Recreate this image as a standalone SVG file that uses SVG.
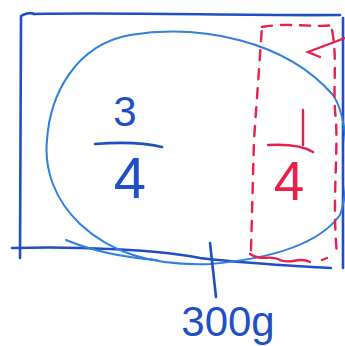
<svg xmlns="http://www.w3.org/2000/svg" width="345" height="346" viewBox="0 0 345 346">
<style>
.dk{fill:none;stroke:#1f4fc4;stroke-width:2.6;stroke-linecap:round;stroke-linejoin:round}
.lt{fill:none;stroke:#2f7fdc;stroke-width:2;stroke-linecap:round}
.rd{fill:none;stroke:#e8204c;stroke-width:2.4;stroke-linecap:round}
.rdd{fill:none;stroke:#e8204c;stroke-width:2.4;stroke-linecap:round;stroke-dasharray:10 9}
.tb{font-family:"Liberation Sans",Arial,sans-serif;fill:#1f4fc4;text-anchor:middle}
.tr{font-family:"Liberation Sans",Arial,sans-serif;fill:#e8204c;text-anchor:middle}
</style>
<rect width="345" height="346" fill="#fff"/>
<g id="whole">
<path class="dk" d="M34,14 C120,12 250,16 340,15"/>
<path class="dk" d="M34,14 C30,12 24,14 21,16 L20,258"/>
<path class="dk" d="M12,248 C80,246 160,250 200,258 C250,264 300,266 331,268"/>
<path class="dk" d="M343,18 L343,268"/>
</g>
<g id="blob">
<path class="lt" d="M130,35 C200,24 285,40 333,95 C350,120 350,190 340,215 C322,240 280,258 210,264 C150,266 110,252 80,224 C55,200 44,170 47,140 C50,95 75,45 130,35 Z"/>
<path class="lt" d="M66,240 C95,252 130,258 157,260"/>
</g>
<g id="quarter">
<path class="rdd" d="M251,250 L254,140 L262,27"/>
<path class="rdd" d="M262,27 C290,22 315,28 333,25"/>
<path class="rdd" d="M332,30 C338,60 332,90 336,120 C338,160 332,200 337,255" stroke-dasharray="7 14"/>
<path class="rd" d="M250,254 C262,262 270,254 280,260 C292,265 298,256 310,262 M322,260 L327,258"/>
<path class="rd" d="M345,38 L308,52 L320,57"/>
</g>
<g id="label-three-quarters">
<text class="tb" x="125" y="126" font-size="42">3</text>
<path class="dk" d="M95,144 C120,142 145,143 162,147"/>
<text class="tb" x="130" y="198" font-size="58">4</text>
</g>
<g id="label-one-quarter">
<path class="rd" d="M303,110 L303,145"/>
<path class="rd" d="M268,145 C285,144 302,145 313,152"/>
<text class="tr" x="289" y="200" font-size="55">4</text>
</g>
<g id="connectors">
<path class="dk" d="M210,243 C212,262 214,280 216,297"/>
</g>
<g id="label-total">
<text class="tb" x="228" y="336" font-size="42">300g</text>
</g>
</svg>
